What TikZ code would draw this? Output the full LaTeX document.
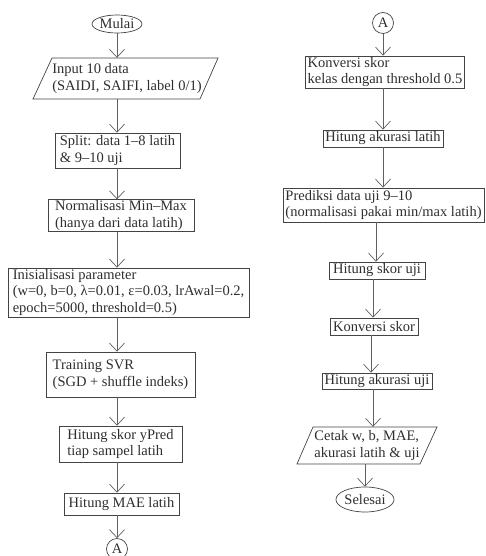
\documentclass[tikz,border=0pt]{standalone}
\usepackage{fontspec}
\setmainfont{Liberation Serif}
\usetikzlibrary{shapes.geometric,arrows.meta}
\definecolor{txt}{HTML}{2E2E2E}
\definecolor{edgec}{HTML}{444444}
\definecolor{connc}{HTML}{606060}
\begin{document}
\begin{tikzpicture}[x=1pt,y=-1pt,
  font=\fontsize{14.5}{16.5}\selectfont,
  box/.style={draw=edgec, line width=0.7pt, rectangle, align=left, inner xsep=2.5pt, inner ysep=1pt, text=txt},
  term/.style={draw=edgec, line width=0.7pt, ellipse, inner sep=0pt, text=txt},
  conn/.style={draw=edgec, line width=0.7pt, circle, inner sep=0pt, minimum size=21pt, text=txt},
  ghost/.style={align=left, inner sep=0pt, text=txt},
  para/.style={draw=edgec, line width=0.7pt},
  arr/.style={draw=connc, line width=0.7pt, -{Straight Barb[length=8pt,width=15pt]}}]
\useasboundingbox (0,0) rectangle (485,556);

% left column
\node[term, minimum width=50, minimum height=18] (mulai) at (117,24) {Mulai};
\node[ghost, minimum height=41] (input) at (127,78.5) {Input 10 data\\(SAIDI, SAIFI, label 0/1)};
\draw[para] (33,99) -- (52,58) -- (218,58) -- (200,99) -- cycle;
\node[box, minimum width=125, minimum height=35] (split) at (117.5,150.5) {Split: data 1–8 latih\\\& 9–10 uji};
\node[box, minimum width=146, minimum height=31] (norm) at (121,215.5) {Normalisasi Min–Max\\(hanya dari data latih)};
\node[box, minimum width=241, minimum height=49] (init) at (128.5,292.5) {Inisialisasi parameter\\(w=0, b=0, λ=0.01, ε=0.03, lrAwal=0.2,\\epoch=5000, threshold=0.5)};
\node[box, minimum width=149, minimum height=45] (train) at (120.5,374.5) {Training SVR\\(SGD + shuffle indeks)};
\node[box, minimum width=123, minimum height=36] (skor) at (120.5,444) {Hitung skor yPred\\tiap sampel latih};
\node[box, minimum width=115, minimum height=22] (mae) at (121.5,504) {Hitung MAE latih};
\node[conn] (a1) at (117,549) {A};

\coordinate (L) at (117,0);
\draw[arr] (mulai.south) -- (mulai.south |- input.north);
\draw[arr] (L |- input.south) -- (L |- split.north);
\draw[arr] (L |- split.south) -- (L |- norm.north);
\draw[arr] (L |- norm.south) -- (L |- init.north);
\draw[arr] (L |- init.south) -- (L |- train.north);
\draw[arr] (L |- train.south) -- (L |- skor.north);
\draw[arr] (L |- skor.south) -- (L |- mae.north);
\draw[arr] (L |- mae.south) -- (a1.north);

% right column
\node[conn] (a2) at (383,23) {A};
\node[box, minimum width=154, minimum height=32] (konv) at (385,72) {Konversi skor\\kelas dengan threshold 0.5};
\node[box, minimum width=120, minimum height=17] (akl) at (383,138.5) {Hitung akurasi latih};
\node[box, minimum width=199, minimum height=34] (pred) at (383.5,205) {Prediksi data uji 9–10\\(normalisasi pakai min/max latih)};
\node[box, minimum width=96, minimum height=17] (sku) at (377,270.5) {Hitung skor uji};
\node[box, minimum width=88, minimum height=17] (kvs) at (374,326.5) {Konversi skor};
\node[box, minimum width=110, minimum height=16] (aku) at (377,381) {Hitung akurasi uji};
\node[ghost, minimum height=37] (cetak) at (367,445.5) {Cetak w, b, MAE,\\akurasi latih \& uji};
\draw[para] (297,464) -- (313,427) -- (437,427) -- (420,464) -- cycle;
\node[term, minimum width=56, minimum height=25] (selesai) at (365,499.5) {Selesai};

\coordinate (R1) at (383,0);
\coordinate (R2) at (376,0);
\coordinate (R3) at (373,0);
\coordinate (R4) at (371,0);
\coordinate (R5) at (365,0);
\draw[arr] (a2.south) -- (R1 |- konv.north);
\draw[arr] (R1 |- konv.south) -- (R1 |- akl.north);
\draw[arr] (R1 |- akl.south) -- (R1 |- pred.north);
\draw[arr] (R2 |- pred.south) -- (R2 |- sku.north);
\draw[arr] (R3 |- sku.south) -- (R3 |- kvs.north);
\draw[arr] (R4 |- kvs.south) -- (R4 |- aku.north);
\draw[arr] (R3 |- aku.south) -- (R3 |- cetak.north);
\draw[arr] (R5 |- cetak.south) -- (selesai.north);
\end{tikzpicture}
\end{document}
